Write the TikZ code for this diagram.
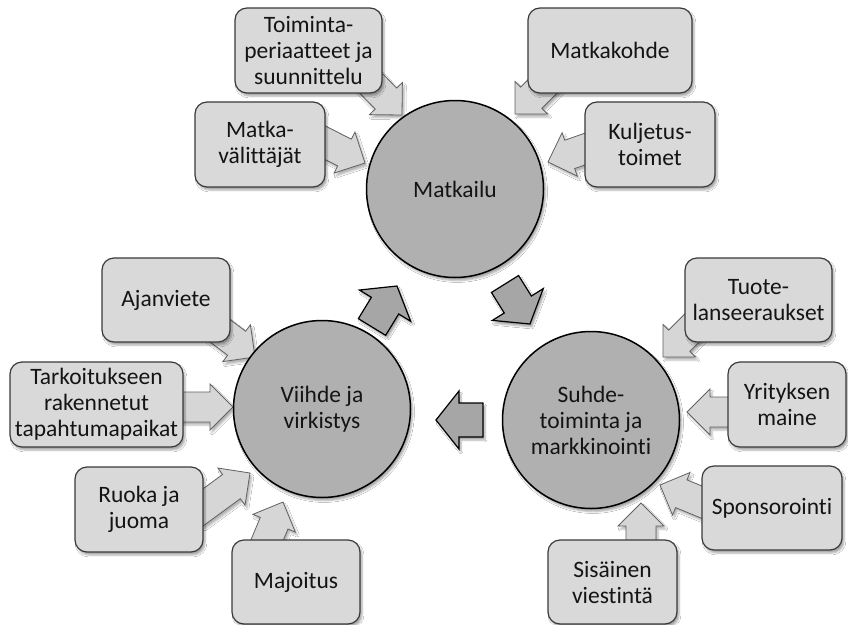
\documentclass[tikz,border=0pt]{standalone}
\usepackage{fontspec}
\setmainfont[Ligatures=NoCommon]{Carlito}
\usetikzlibrary{calc,shadows,shadows.blur}
\definecolor{boxfill}{HTML}{D9D9D9}
\definecolor{arrfill}{HTML}{D6D6D6}
\definecolor{circfill}{HTML}{B0B0B0}
\definecolor{midfill}{HTML}{A6A6A6}
\definecolor{edgecol}{HTML}{3A3A3A}
\definecolor{txtcol}{HTML}{141414}
\newcommand\blockarr[6]{%
  \coordinate (ban) at ($(#3)!#6!(#2)$);
  \draw[#1] ($(#2)!#4!90:(#3)$) -- ($(ban)!#4!90:(#3)$) -- ($(ban)!#5!90:(#3)$) -- (#3)
    -- ($(ban)!#5!-90:(#3)$) -- ($(ban)!#4!-90:(#3)$) -- ($(#2)!#4!-90:(#3)$) -- cycle;
}
\tikzset{
  lbl/.style={align=center, text=txtcol, font=\fontsize{23.5}{26}\selectfont},
  infobox/.style={lbl, draw=edgecol, line width=1.2pt, fill=boxfill, rounded corners=12pt,
    inner sep=0pt, blur shadow={shadow xshift=2pt, shadow yshift=-3pt, shadow opacity=35}},
  hub/.style={lbl, circle, draw=black, line width=1.5pt, fill=circfill, minimum size=177pt,
    inner sep=0pt, blur shadow={shadow xshift=2pt, shadow yshift=-3pt, shadow opacity=35}},
  outarr/.style={fill=arrfill, draw=edgecol!80, line width=0.8pt, line join=miter,
    blur shadow={shadow xshift=2pt, shadow yshift=-3pt, shadow opacity=30}},
  midarr/.style={fill=midfill, draw=black, line width=1.2pt, line join=miter,
    blur shadow={shadow xshift=2pt, shadow yshift=-3pt, shadow opacity=35}}
}
\begin{document}
\begin{tikzpicture}[x=1pt,y=-1pt]
\useasboundingbox[fill=white] (0,0) rectangle (848,624);
% arrow end points
\coordinate (t1) at (360,72);  \coordinate (h1) at (402,115);
\coordinate (t2) at (557,72);  \coordinate (h2) at (515,114);
\coordinate (t3) at (312,136); \coordinate (h3) at (365,163);
\coordinate (t4) at (605,142); \coordinate (h4) at (548,162);
\coordinate (t5) at (207,321); \coordinate (h5) at (255,357);
\coordinate (t6) at (173,407); \coordinate (h6) at (233,407);
\coordinate (t7) at (194,514); \coordinate (h7) at (250,473);
\coordinate (t8) at (260,557); \coordinate (h8) at (283,502);
\coordinate (t9) at (705,315); \coordinate (h9) at (663,357);
\coordinate (t10) at (747,412); \coordinate (h10) at (687,412);
\coordinate (t11) at (716,508); \coordinate (h11) at (660,485);
\coordinate (t12) at (641,563); \coordinate (h12) at (641,503);
\coordinate (ta) at (372,327); \coordinate (ha) at (397,286);
\coordinate (tb) at (505,284); \coordinate (hb) at (530,324);
\coordinate (tc) at (483,420); \coordinate (hc) at (436,420);
% outer arrows
\foreach \i in {1,...,12}{\blockarr{outarr}{t\i}{h\i}{15pt}{23pt}{23pt}}
% middle arrows
\blockarr{midarr}{ta}{ha}{16pt}{30pt}{23pt}
\blockarr{midarr}{tb}{hb}{16pt}{30pt}{23pt}
\blockarr{midarr}{tc}{hc}{17pt}{29pt}{23pt}
% boxes
\node[infobox, minimum width=147pt, minimum height=85pt] (b1) at (308.5,50.5) {Toiminta-\\periaatteet ja\\suunnittelu};
\node[infobox, minimum width=164pt, minimum height=85pt] (b2) at (610,50.5) {Matkakohde};
\node[infobox, minimum width=130pt, minimum height=85pt] (b3) at (260,144.5) {Matka-\\välittäjät};
\node[infobox, minimum width=130pt, minimum height=85pt] (b4) at (650,144.5) {Kuljetus-\\toimet};
\node[infobox, minimum width=128pt, minimum height=84pt] (b5) at (166,300) {Ajanviete};
\node[infobox, minimum width=173pt, minimum height=85pt] (b6) at (96.5,404.5) {Tarkoitukseen\\rakennetut\\tapahtumapaikat};
\node[infobox, minimum width=128pt, minimum height=85pt] (b7) at (139,509.5) {Ruoka ja\\juoma};
\node[infobox, minimum width=128pt, minimum height=84pt] (b8) at (296,582) {Majoitus};
\node[infobox, minimum width=147pt, minimum height=84pt] (b9) at (758.5,300) {Tuote-\\lanseeraukset};
\node[infobox, minimum width=118pt, minimum height=85pt] (b10) at (787,404.5) {Yrityksen\\maine};
\node[infobox, minimum width=140pt, minimum height=84pt] (b11) at (772,508) {Sponsorointi};
\node[infobox, minimum width=129pt, minimum height=84pt] (b12) at (612.5,582) {Sisäinen\\viestintä};
% hubs
\node[hub] (c1) at (455,189) {Matkailu};
\node[hub] (c2) at (322,409) {Viihde ja\\virkistys};
\node[hub] (c3) at (591,420) {Suhde-\\toiminta ja\\markkinointi};
\end{tikzpicture}
\end{document}
